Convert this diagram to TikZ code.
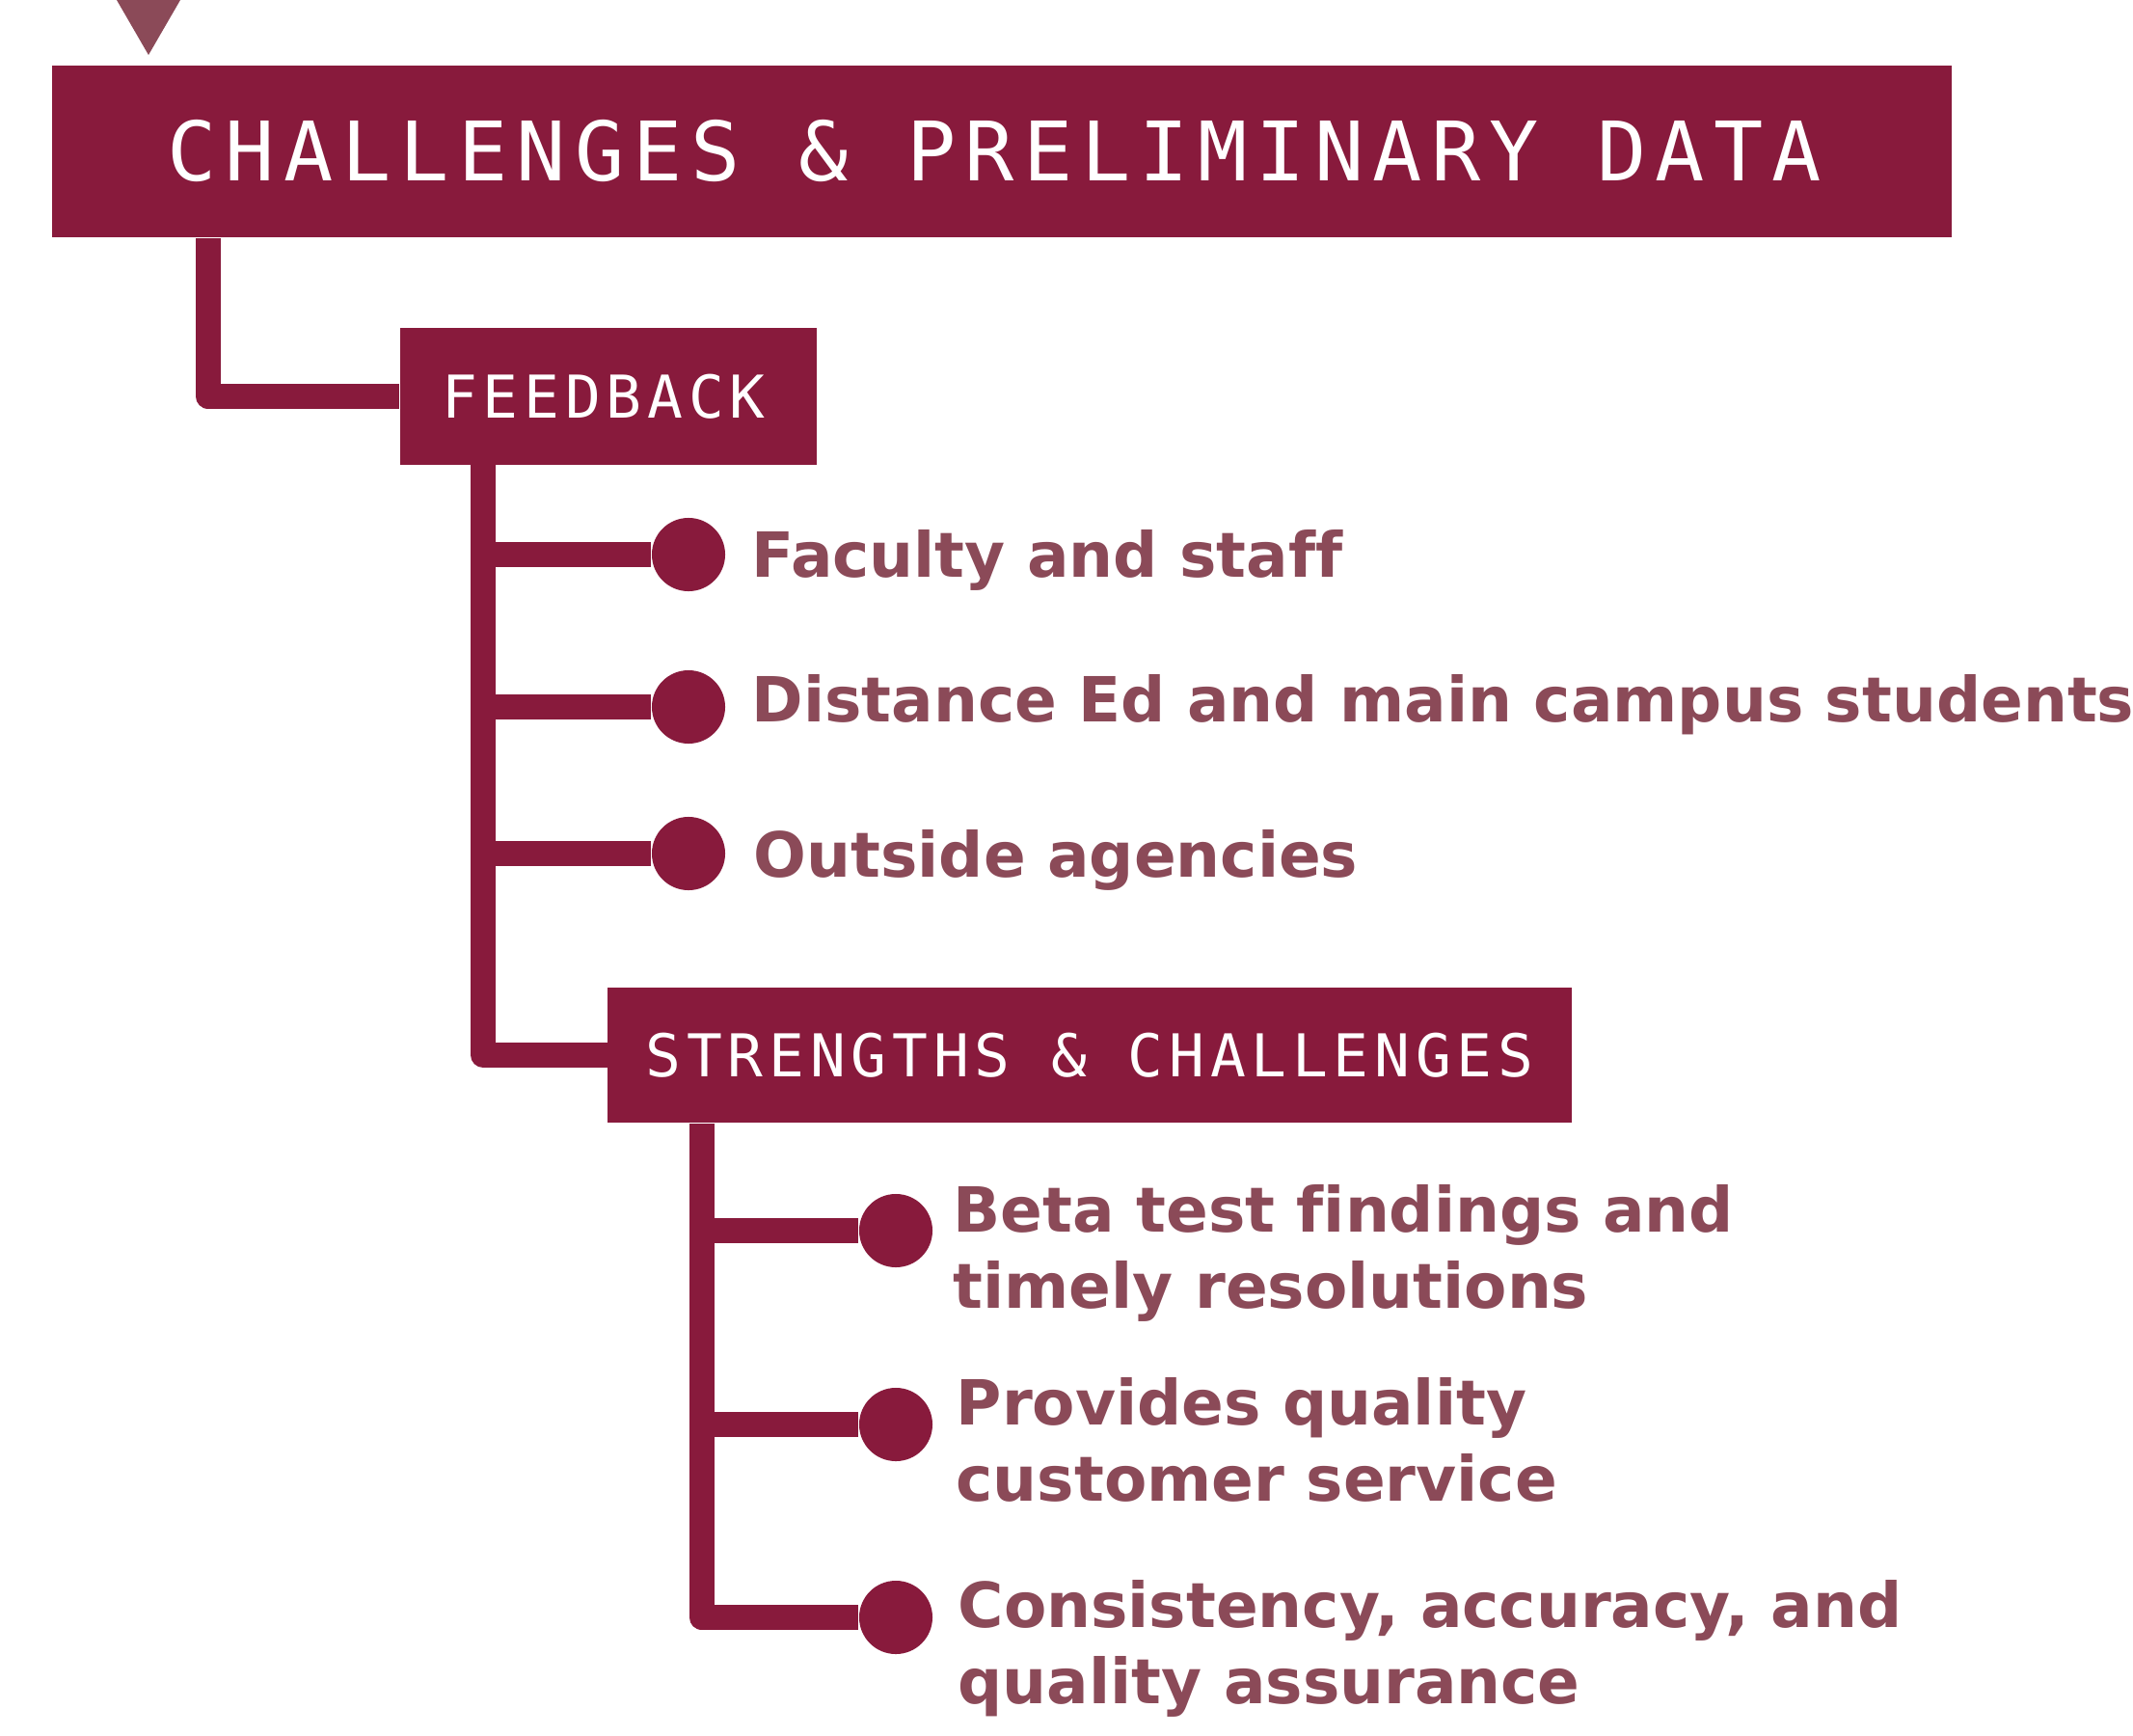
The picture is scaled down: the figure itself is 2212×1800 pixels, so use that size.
\documentclass[tikz,border=0pt]{standalone}
\usepackage{fontspec}
\usetikzlibrary{positioning,calc}
\newfontfamily\headfont[LetterSpace=9.5]{DejaVu Sans Mono}
\newfontfamily\titlefont[LetterSpace=10.8]{DejaVu Sans Mono}
\newfontfamily\itemfont[Ligatures=NoCommon]{DejaVu Sans}
\definecolor{wine}{HTML}{881A3C}
\definecolor{rose}{HTML}{8B4A58}
\tikzstyle{head}=[fill=wine, text=white, inner sep=0pt, font=\headfont\fontsize{17.4pt}{20pt}\selectfont]
\tikzstyle{link}=[draw=wine, line width=0.26cm, line join=round]
\tikzstyle{dot}=[circle, fill=wine, inner sep=0pt, minimum size=0.76cm]
\tikzstyle{item}=[text=rose, inner sep=0pt, anchor=base west, align=left, font=\itemfont\bfseries\fontsize{18.35pt}{22.2pt}\selectfont]

\begin{document}
\begin{tikzpicture}[x=0.01cm, y=-0.01cm]
\useasboundingbox (0,0) rectangle (2212,1800);

\fill [rose] (121,0) -- (187,0) -- (154,57) -- cycle;

\node (title) [head, minimum width=19.68cm, minimum height=1.78cm, font=\titlefont\fontsize{24.2pt}{28pt}\selectfont] at (1039,157) {\kern-0.16cm CHALLENGES \& PRELIMINARY DATA};
\node (feedback) [head, minimum width=4.32cm, minimum height=1.41cm] at (631,411) {\kern-0.1cm FEEDBACK};
\node (strengths) [head, minimum width=9.99cm, minimum height=1.40cm] at (1130,1094) {STRENGTHS \& CHALLENGES};

\coordinate (fbtrunk) at ($(feedback.south west)+(87,0)$);
\coordinate (sctrunk) at ($(strengths.south west)+(98,0)$);

\draw [link] ($(title.south west)+(162,0)$) |- (feedback.west);
\draw [link] (fbtrunk) |- (strengths.west);

% feedback items
\node (faculty) [dot] at (714,575) {};
\node (distance) [dot] at (714,733) {};
\node (outside) [dot] at (714,885) {};
\draw [link] (fbtrunk |- faculty) -- (faculty);
\draw [link] (fbtrunk |- distance) -- (distance);
\draw [link] (fbtrunk |- outside) -- (outside);
\node (facultytext) [item] at (779,598) {Faculty and staff};
\node (distancetext) [item] at (779,748) {Distance Ed and main campus students};
\node (outsidetext) [item] at (781,909) {Outside agencies};

% strengths items
\node (beta) [dot] at (929,1276) {};
\node (quality) [dot] at (929,1477) {};
\node (consistency) [dot] at (929,1677) {};
\draw [link] (sctrunk) |- (consistency);
\draw [link] (sctrunk |- beta) -- (beta);
\draw [link] (sctrunk |- quality) -- (quality);
\node (betatext) [item] at (988,1356) {Beta test findings and\\timely resolutions};
\node (qualitytext) [item] at (991,1556) {Provides quality\\customer service};
\node (consistencytext) [item] at (993,1766) {Consistency, accuracy, and\\quality assurance};

\end{tikzpicture}
\end{document}
